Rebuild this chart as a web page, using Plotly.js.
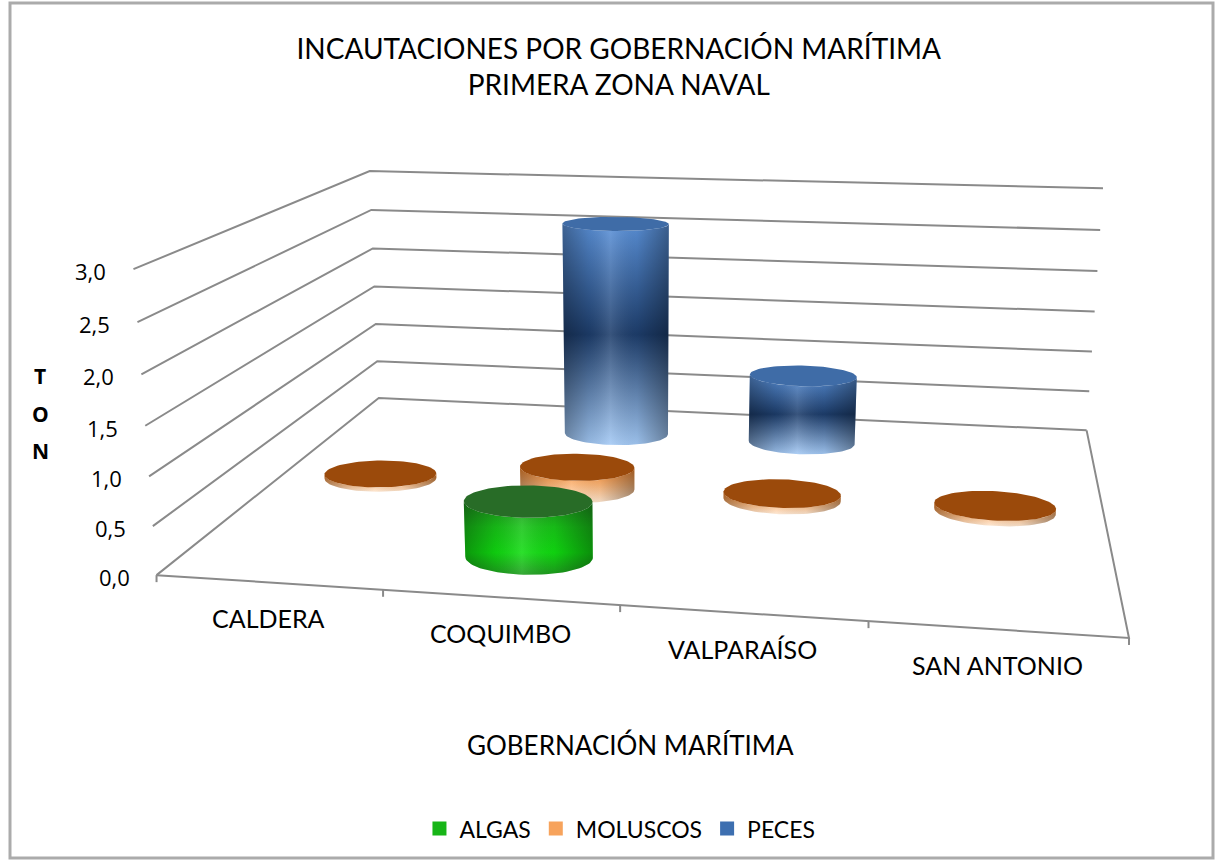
<!DOCTYPE html>
<html>
<head>
<meta charset="utf-8">
<script src="https://cdn.plot.ly/plotly-3.0.1.min.js"></script>
<style>html,body{margin:0;padding:0;background:#fff;}#chart{width:1218px;height:865px;}</style>
</head>
<body>
<div id="chart"></div>
<script>
// ---------------- data ----------------
const categories = ["CALDERA", "COQUIMBO", "VALPARAÍSO", "SAN ANTONIO"];
const seriesNames = ["ALGAS", "MOLUSCOS", "PECES"];
const algas    = [0, 0.58, 0, 0];
const moluscos = [0.05, 0.25, 0.07, 0.06];
const peces    = [0, 2.6, 0.83, 0];
const zTicks   = [0, 0.5, 1, 1.5, 2, 2.5, 3];
const zTickLabels = ["0,0", "0,5", "1,0", "1,5", "2,0", "2,5", "3,0"];

// ---------------- view geometry (pseudo-3D perspective) ----------------
// box: X = category units [0, nCat], Y = depth [0,1] (0 front), Z = value [0, zMax]
const W = 1218, H = 865;
const nCat = categories.length, zMax = 3;
// calibration of the perspective view: [X, Y, Z, screenX, screenY]
const calib = [
  [0,0,0,157,574],[4,0,0,1129,638],[0,1,0,379,398],[4,1,0,1087,430],
  [0,0,3,133,269],[0,1,3,370,171],[4,1,3,1103,188],
  [0,0,1.5,146,425],[0,1,1.5,374,287],[4,1,1.5,1095,312],
  [0,0,0.5,153,527],[0,0,1,148,477],[0,0,2,142,375],[0,0,2.5,137,322],
  [0,1,0.5,377,361],[0,1,1,375,324],[0,1,2,373,248],[0,1,2.5,372,210],
  [4,1,0.5,1089,391],[4,1,1,1092,352],[4,1,2,1097,271],[4,1,2.5,1100,230]
];
function solveDLT(pts){
  const n = 11, A = [], b = [];
  pts.forEach(([X,Y,Z,u,v])=>{
    A.push([X,Y,Z,1,0,0,0,0,-u*X,-u*Y,-u*Z]); b.push(u);
    A.push([0,0,0,0,X,Y,Z,1,-v*X,-v*Y,-v*Z]); b.push(v);
  });
  const M = [], r = [];
  for(let i=0;i<n;i++){ M.push(new Array(n).fill(0)); r.push(0); }
  A.forEach((row,k)=>{ for(let i=0;i<n;i++){ r[i]+=row[i]*b[k]; for(let j=0;j<n;j++) M[i][j]+=row[i]*row[j]; } });
  for(let c=0;c<n;c++){
    let piv=c; for(let i=c+1;i<n;i++) if(Math.abs(M[i][c])>Math.abs(M[piv][c])) piv=i;
    [M[c],M[piv]]=[M[piv],M[c]]; [r[c],r[piv]]=[r[piv],r[c]];
    for(let i=0;i<n;i++){ if(i===c) continue; const f=M[i][c]/M[c][c];
      for(let j=c;j<n;j++) M[i][j]-=f*M[c][j]; r[i]-=f*r[c]; }
  }
  return r.map((v,i)=>v/M[i][i]);
}
const p = solveDLT(calib);
function proj(X,Y,Z){
  const w = p[8]*X+p[9]*Y+p[10]*Z+1;
  return [(p[0]*X+p[1]*Y+p[2]*Z+p[3])/w, (p[4]*X+p[5]*Y+p[6]*Z+p[7])/w];
}

// ---------------- styles ----------------
const FONT = "Lato, 'Open Sans', sans-serif";
const NUMFONT = "'Open Sans', 'Noto Sans', sans-serif";
const GRID = '#8a8a8a';
const RX = 0.28, RY = 0.075;   // cylinder radius in X units / depth units
// side gradients: 0 = bottom, 1 = top
const styles = [
  {cap:'#286c27', side:[[0,'#1e9c1e'],[0.3,'#10dc10'],[0.65,'#18c418'],[1,'#1f8d1f']], key:'#17b517'},
  {cap:'#9b4a0b', side:[[0,'#fde6d0'],[0.5,'#fbb476'],[1,'#f7862a']], key:'#f7a35c'},
  {cap:'#3f6ca7', side:[[0,'#a3c9f5'],[0.5,'#1d3d6b'],[1,'#5b92da']], key:'#3d6fb0'}
];
const shade = [[0,'rgba(0,0,0,0.32)'],[0.25,'rgba(0,0,0,0.08)'],[0.45,'rgba(255,255,255,0.12)'],[0.7,'rgba(0,0,0,0.05)'],[1,'rgba(0,0,0,0.35)']];

const traces = [];
function line(pts, color, width){
  traces.push({type:'scatter', mode:'lines', x:pts.map(q=>q[0]), y:pts.map(q=>q[1]),
    line:{color, width}, hoverinfo:'skip', showlegend:false, cliponaxis:false});
}

// gridlines on left and back walls
zTicks.forEach(z=>{ line([proj(0,0,z), proj(0,1,z), proj(nCat,1,z)], GRID, 2); });
// floor front and right edges
line([proj(0,0,0), proj(nCat,0,0), proj(nCat,1,0)], GRID, 2);
// tick marks on the front edge at category boundaries
for(let c=0;c<=nCat;c++){ const q=proj(c,0,0); line([q,[q[0],q[1]+7]], GRID, 2); }

// cylinders
function ring(cx, cy, z){
  const out=[]; const N=90;
  for(let k=0;k<N;k++){ const a=2*Math.PI*k/N; out.push(proj(cx+RX*Math.cos(a), cy+RY*Math.sin(a), z)); }
  return out;
}
function lowerArc(pts){
  let iMin=0,iMax=0;
  pts.forEach((q,i)=>{ if(q[0]<pts[iMin][0]) iMin=i; if(q[0]>pts[iMax][0]) iMax=i; });
  const N=pts.length, arcA=[], arcB=[];
  for(let i=iMin;;i=(i+1)%N){ arcA.push(pts[i]); if(i===iMax) break; }
  for(let i=iMin;;i=(i-1+N)%N){ arcB.push(pts[i]); if(i===iMax) break; }
  const avg=a=>a.reduce((s,q)=>s+q[1],0)/a.length;
  return avg(arcA)>avg(arcB)?arcA:arcB;
}
function poly(pts, fill){
  const t = {type:'scatter', mode:'lines', fill:'toself', x:pts.map(q=>q[0]).concat([pts[0][0]]),
    y:pts.map(q=>q[1]).concat([pts[0][1]]), line:{width:0, color:'rgba(0,0,0,0)'}, hoverinfo:'skip', showlegend:false};
  Object.assign(t, fill);
  traces.push(t);
}
function cylinder(cx, cy, h, st){
  const bot = lowerArc(ring(cx,cy,0));
  const topRing = ring(cx,cy,h);
  const top = lowerArc(topRing);
  const side = bot.concat(top.slice().reverse());
  poly(side, {fillgradient:{type:'vertical', colorscale:st.side}});
  poly(side, {fillgradient:{type:'horizontal', colorscale:shade}});
  poly(topRing, {fillcolor:st.cap});
}
const allSeries = [algas, moluscos, peces];
for(let s=allSeries.length-1;s>=0;s--){
  const depth = (s+0.5)/allSeries.length;
  allSeries[s].forEach((v,c)=>{ if(v>0) cylinder(c+0.5, depth, v, styles[s]); });
}

// legend keys
seriesNames.forEach((n,s)=>{
  traces.push({type:'scatter', x:[null], y:[null], mode:'markers', name:n,
    marker:{symbol:'square', size:14, color:styles[s].key}, hoverinfo:'skip'});
});

// annotations: z tick labels, category labels, axis titles
const annotations = [];
zTicks.forEach((z,i)=>{
  const q = proj(0,0,z);
  annotations.push({x:q[0]-25, y:q[1]+2, xref:'x', yref:'y', text:zTickLabels[i], showarrow:false,
    xanchor:'right', yanchor:'middle', font:{family:NUMFONT, size:22, color:'#000'}});
});
categories.forEach((c,i)=>{
  const q = proj(i+0.5,0,0);
  annotations.push({x:q[0], y:q[1]+36, xref:'x', yref:'y', text:c, showarrow:false,
    xanchor:'center', yanchor:'middle', font:{family:FONT, size:25, color:'#000'}});
});
['T','O','N'].forEach((ch,i)=>{
  annotations.push({x:40, y:376+i*37.5, xref:'x', yref:'y', text:'<b>'+ch+'</b>', showarrow:false,
    xanchor:'center', yanchor:'middle', font:{family:NUMFONT, size:21, color:'#000'}});
});
annotations.push({x:630, y:745, xref:'x', yref:'y', text:'GOBERNACIÓN MARÍTIMA', showarrow:false,
  xanchor:'center', yanchor:'middle', font:{family:FONT, size:26, color:'#000'}});

const layout = {
  width:W, height:H, margin:{l:0,r:0,t:0,b:0},
  paper_bgcolor:'#ffffff', plot_bgcolor:'#ffffff',
  font:{family:FONT, color:'#000'},
  title:{text:'INCAUTACIONES POR GOBERNACIÓN MARÍTIMA<br>PRIMERA ZONA NAVAL', x:0.508, xanchor:'center',
    y:0.932, yanchor:'middle', font:{family:FONT, size:28, color:'#000'}},
  showlegend:true,
  legend:{orientation:'h', x:0.509, xanchor:'center', y:0.042, yanchor:'middle',
    font:{family:FONT, size:23, color:'#000'}, traceorder:'normal', itemwidth:30},
  xaxis:{range:[0,W], visible:false, fixedrange:true},
  yaxis:{range:[H,0], visible:false, fixedrange:true},
  annotations,
  shapes:[{type:'rect', xref:'x', yref:'y', x0:10, x1:1213, y0:3, y1:858, line:{color:'#ababab', width:3}}]
};
Plotly.newPlot('chart', traces, layout, {displayModeBar:false, staticPlot:true});
</script>
</body>
</html>
